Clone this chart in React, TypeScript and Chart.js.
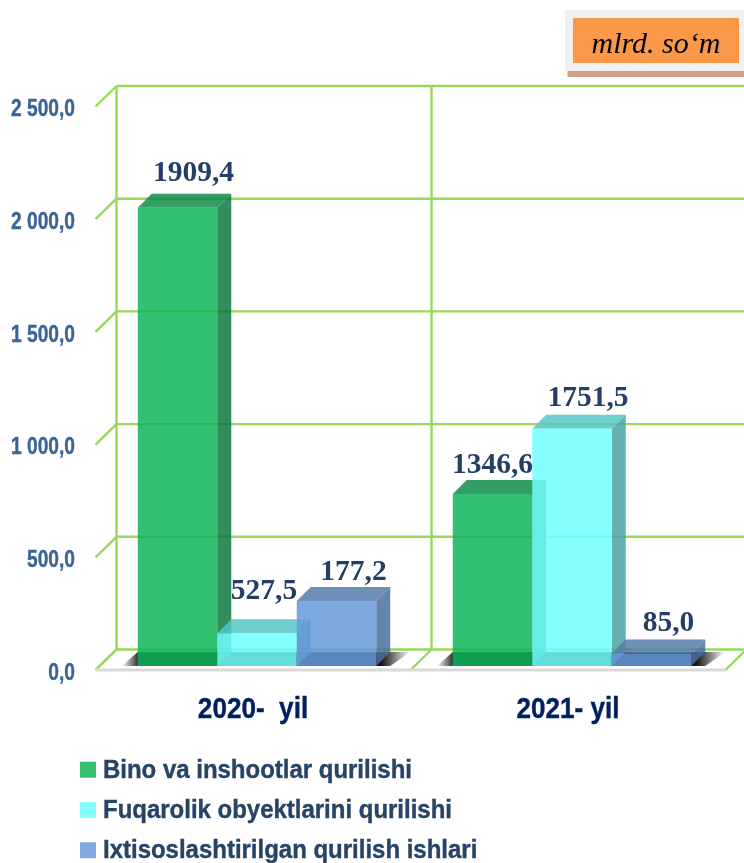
import React, { useEffect, useRef } from "react";
import { Chart, registerables } from "chart.js";

Chart.register(...registerables);

const categories = ["2020-  yil", "2021- yil"];
const seriesNames = [
  "Bino va inshootlar qurilishi",
  "Fuqarolik obyektlarini qurilishi",
  "Ixtisoslashtirilgan qurilish ishlari",
];
// Bar heights as read against the picture's own axis.
const binoHeights = [2033, 763];
const fuqarolikHeights = [145, 1053];
const ixtisosHeights = [288, 56];
// Values printed above the bars in the picture (they differ from the drawn heights there).
const binoPrinted = ["1909,4", "1346,6"];
const fuqarolikPrinted = ["527,5", "1751,5"];
const ixtisosPrinted = ["177,2", "85,0"];
const yTickLabels = ["0,0", "500,0", "1 000,0", "1 500,0", "2 000,0", "2 500,0"];
const unitText = "mlrd. so\u2018m";

const printed = [binoPrinted, fuqarolikPrinted, ixtisosPrinted];
const labelNudge = [
  [[16, -34], [0, -29]],
  [[7, -42], [16, -30]],
  [[17, -29], [17, -30]],
];
const frontColors = ["rgba(17,181,89,0.85)", "rgba(112,255,255,0.85)", "rgba(102,154,218,0.85)"];
const topColors = ["rgba(15,140,75,0.85)", "rgba(85,199,199,0.85)", "rgba(85,123,171,0.85)"];
const sideColors = ["rgba(15,120,62,0.85)", "rgba(75,165,165,0.85)", "rgba(75,110,159,0.85)"];
const legendSwatches = ["#35c072", "#85ffff", "#82aae0"];
const DEPTH = 14;
const GRID = "#98d85b";
const SANS = '"Liberation Sans", Arial, sans-serif';

const poly = (ctx: CanvasRenderingContext2D, pts: number[][], fill: any) => {
  ctx.beginPath();
  pts.forEach((p, i) => (i ? ctx.lineTo(p[0], p[1]) : ctx.moveTo(p[0], p[1])));
  ctx.closePath();
  ctx.fillStyle = fill;
  ctx.fill();
};

const squeezed = (ctx: CanvasRenderingContext2D, text: string, x: number, y: number, sx: number) => {
  ctx.save();
  ctx.translate(x, y);
  ctx.scale(sx, 1);
  ctx.strokeStyle = ctx.fillStyle;
  ctx.lineWidth = 0.4;
  ctx.strokeText(text, 0, 0);
  ctx.fillText(text, 0, 0);
  ctx.restore();
};

const wallPlugin = {
  id: "wall",
  beforeDatasetsDraw(chart: any) {
    const { ctx, chartArea, scales } = chart;
    const y = scales.y;
    const stepX = chartArea.width / categories.length;
    const backTop = y.getPixelForValue(2500) - 16.5;
    const backBottom = y.getPixelForValue(0) - 16.5;
    ctx.save();
    ctx.strokeStyle = GRID;
    ctx.lineWidth = 2.4;
    y.ticks.forEach((t: any) => {
      const py = y.getPixelForValue(t.value) - 16.5;
      ctx.beginPath();
      ctx.moveTo(chartArea.left + 17, py);
      ctx.lineTo(chartArea.right + 17, py);
      ctx.moveTo(chartArea.left + 17, py);
      ctx.lineTo(chartArea.left - 4, py + 20.5);
      ctx.stroke();
    });
    for (let i = 0; i <= categories.length; i++) {
      const bx = chartArea.left + i * stepX;
      ctx.beginPath();
      ctx.moveTo(bx + 17, backTop);
      ctx.lineTo(bx + 17, backBottom);
      ctx.moveTo(bx + 17, backBottom);
      ctx.lineTo(bx - 4, backBottom + 20.5);
      ctx.stroke();
    }
    ctx.strokeStyle = "#d9d9d9";
    ctx.lineWidth = 3;
    ctx.beginPath();
    ctx.moveTo(chartArea.left - 4, backBottom + 20.5);
    ctx.lineTo(chartArea.right - 4, backBottom + 20.5);
    ctx.stroke();
    // floor shadow under each group of bars
    categories.forEach((_, c) => {
      const first = chart.getDatasetMeta(0).data[c];
      const last = chart.getDatasetMeta(2).data[c];
      const L = first.x - first.width / 2;
      const R = last.x + last.width / 2;
      const b = y.getPixelForValue(0);
      const g = ctx.createLinearGradient(L - 16, 0, R + 34, 0);
      g.addColorStop(0, "rgba(20,20,20,0)");
      g.addColorStop(0.055, "rgba(20,20,20,0.85)");
      g.addColorStop(0.07, "rgba(20,20,20,1)");
      g.addColorStop(0.9, "rgba(20,20,20,1)");
      g.addColorStop(1, "rgba(20,20,20,0)");
      poly(ctx, [[L - 16, b], [L, b - DEPTH], [R + 34, b - DEPTH], [R + 14, b]], g);
    });
    ctx.restore();
  },
  // Chart.js paints dataset 0 last; the picture stacks the boxes the other way,
  // so the default pass is skipped and afterDatasetsDraw paints them in index order.
  beforeDatasetDraw() {
    return false;
  },
  afterDatasetsDraw(chart: any) {
    const { ctx } = chart;
    printed.forEach((_, i) => {
      const meta = chart.getDatasetMeta(i);
      meta.data.forEach((bar: any) => {
        const x1 = bar.x + bar.width / 2;
        const x0 = bar.x - bar.width / 2;
        poly(ctx, [[x1, bar.y], [x1 + DEPTH, bar.y - DEPTH], [x1 + DEPTH, bar.base - DEPTH], [x1, bar.base]], sideColors[i]);
        poly(ctx, [[x0, bar.y], [x1, bar.y], [x1 + DEPTH, bar.y - DEPTH], [x0 + DEPTH, bar.y - DEPTH]], topColors[i]);
      });
      meta.controller.draw();
    });
    ctx.save();
    ctx.font = 'bold 29.5px "Liberation Serif", "Times New Roman", serif';
    ctx.fillStyle = "#243f66";
    ctx.textAlign = "center";
    ctx.textBaseline = "middle";
    printed.forEach((list, i) => {
      chart.getDatasetMeta(i).data.forEach((bar: any, c: number) => {
        const [dx, dy] = labelNudge[i][c];
        ctx.fillText(list[c], bar.x + dx, bar.y + dy);
      });
    });
    ctx.restore();
  },
  afterDraw(chart: any) {
    const { ctx, scales } = chart;
    ctx.save();
    ctx.textBaseline = "middle";
    // axis labels, condensed like the reference
    ctx.textAlign = "right";
    ctx.fillStyle = "#3a6496";
    ctx.font = `bold 24px ${SANS}`;
    scales.y.ticks.forEach((t: any) => {
      squeezed(ctx, t.label, 75, scales.y.getPixelForValue(t.value) + 7, 0.8);
    });
    ctx.textAlign = "center";
    ctx.fillStyle = "#002060";
    ctx.font = `bold 30px ${SANS}`;
    scales.x.ticks.forEach((t: any, i: number) => {
      squeezed(ctx, t.label, scales.x.getPixelForTick(i) - 4, 710, 0.87);
    });
    // unit badge
    ctx.fillStyle = "#cfa283";
    ctx.fillRect(567.5, 70, 176.5, 7);
    ctx.fillStyle = "#f0f0f0";
    ctx.fillRect(565, 10, 179, 61);
    ctx.fillStyle = "#fa984a";
    ctx.fillRect(573, 18, 166, 45);
    ctx.fillStyle = "#000";
    ctx.font = 'italic 30px "Liberation Serif", "Times New Roman", serif';
    ctx.fillText(unitText, 656, 45);
    // legend
    ctx.textAlign = "left";
    ctx.font = `bold 25.5px ${SANS}`;
    seriesNames.forEach((name, i) => {
      const cy = 769.7 + i * 40.3;
      ctx.fillStyle = legendSwatches[i];
      ctx.fillRect(80, cy - 8, 16, 16);
      ctx.fillStyle = "#264466";
      squeezed(ctx, name, 103, cy + 1, 0.94);
    });
    ctx.restore();
  },
};

export default function App() {
  const ref = useRef<HTMLCanvasElement | null>(null);
  useEffect(() => {
    const chart = new Chart(ref.current as HTMLCanvasElement, {
      type: "bar",
      data: {
        labels: categories,
        datasets: [binoHeights, fuqarolikHeights, ixtisosHeights].map((values, i) => ({
          label: seriesNames[i],
          data: values,
          backgroundColor: frontColors[i],
          borderWidth: 0,
          barPercentage: 1,
          categoryPercentage: 238.5 / 315,
        })),
      },
      options: {
        animation: false,
        responsive: false,
        layout: { padding: { top: 102.5, right: 14.5, left: 0, bottom: 0 } },
        plugins: { legend: { display: false }, tooltip: { enabled: false } },
        scales: {
          x: {
            grid: { display: false },
            border: { display: false },
            afterFit(s: any) { s.height = 197; },
            ticks: { display: false, maxRotation: 0 },
          },
          y: {
            min: 0,
            max: 2500,
            grid: { display: false, drawTicks: false },
            border: { display: false },
            afterFit(s: any) { s.width = 99.5; },
            ticks: {
              display: false,
              stepSize: 500,
              autoSkip: false,
              callback: (v: any) => yTickLabels[Number(v) / 500],
            },
          },
        },
      },
      plugins: [wallPlugin],
    } as any);
    return () => chart.destroy();
  }, []);
  return (
    <div style={{ position: "absolute", left: 0, top: 0, width: 744, height: 863, overflow: "hidden", background: "#fff" }}>
      <canvas ref={ref} width={744} height={863} style={{ display: "block" }} />
    </div>
  );
}
